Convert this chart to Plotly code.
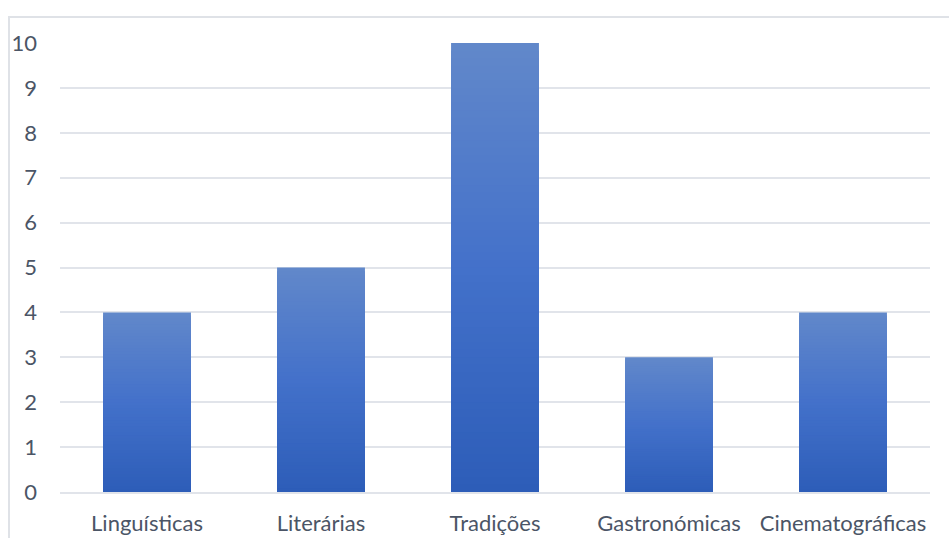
import plotly.graph_objects as go

categories = ["Linguísticas", "Literárias", "Tradições", "Gastronómicas", "Cinematográficas"]
values = [4, 5, 10, 3, 4]
y_ticks = [0, 1, 2, 3, 4, 5, 6, 7, 8, 9, 10]

# gradient colours (top -> middle -> bottom)
c_top = (98, 136, 202)
c_mid = (67, 113, 202)
c_bot = (45, 93, 184)

def lerp(a, b, t):
    return tuple(round(a[i] + (b[i] - a[i]) * t) for i in range(3))

def color_at(t):  # t = 0 bottom, 1 top
    if t < 0.5:
        return lerp(c_bot, c_mid, t / 0.5)
    return lerp(c_mid, c_top, (t - 0.5) / 0.5)

N = 60
fig = go.Figure()
# tallest (the data bar) first, then progressively shorter darker overlays from the base
for k in range(N - 1, -1, -1):
    r, g, b = color_at((k + 0.5) / N)
    frac = (k + 1) / N
    fig.add_trace(go.Bar(
        x=categories,
        y=[v * frac for v in values],
        marker=dict(color=f"rgb({r},{g},{b})", line=dict(width=0)),
        width=0.505,
        showlegend=False,
        hoverinfo=None if k == N - 1 else "skip",
    ))

font = dict(family="Lato, 'Open Sans', sans-serif", size=22, color="#4b5566")

fig.update_layout(
    width=949, height=538,
    margin=dict(l=60, r=19, t=43, b=46),
    paper_bgcolor="white", plot_bgcolor="white",
    barmode="overlay",
    font=font,
    xaxis=dict(showgrid=False, showline=True, linecolor="#e1e4ea", linewidth=2,
               ticks="", ticklabelstandoff=11, tickfont=font, fixedrange=True,
               automargin=False),
    yaxis=dict(range=[0, 10], tickvals=y_ticks, showgrid=True, gridcolor="#e1e4ea",
               gridwidth=2, zeroline=False, showline=False, ticks="",
               ticklabelstandoff=22, tickfont=font, fixedrange=True,
               automargin=False),
    shapes=[dict(type="rect", xref="paper", yref="paper",
                 x0=(9 - 60) / 870, x1=1.1, y0=-0.2, y1=(492 - 17) / 449,
                 line=dict(color="#dfe2e7", width=2), fillcolor="rgba(0,0,0,0)",
                 layer="below")],
)

fig.write_html("out.html")
